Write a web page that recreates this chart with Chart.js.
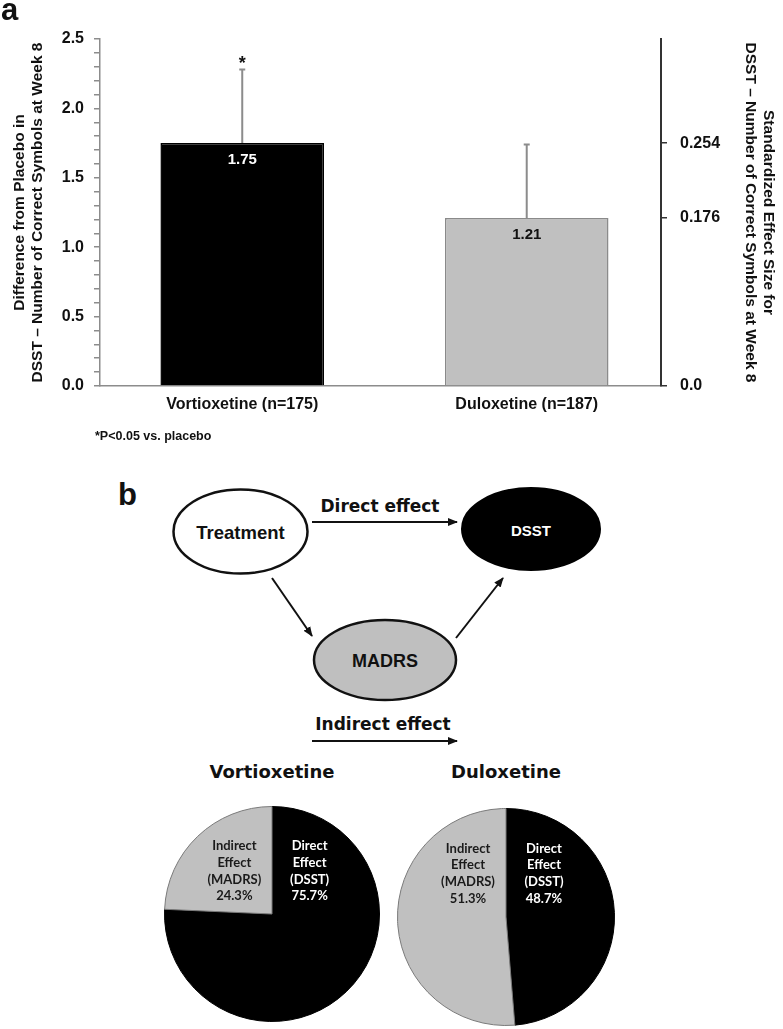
<!DOCTYPE html>
<html>
<head>
<meta charset="utf-8">
<title>DSST effect and mediation</title>
<script src="https://cdn.jsdelivr.net/npm/chart.js@4.4.0/dist/chart.umd.min.js"></script>
<style>
  body { margin: 0; background: #fff; }
  #page { position: relative; width: 783px; height: 1029px; overflow: hidden; font-family: "Liberation Sans", Arial, sans-serif; color: #111; }
  .abs { position: absolute; }
  .panel-letter { font-weight: bold; font-size: 31px; line-height: 1; }
  #footnote { left: 95px; top: 430px; font-size: 12.5px; font-weight: bold; line-height: 1; }
  #diagram text { font-family: "DejaVu Sans", Verdana, sans-serif; }
</style>
</head>
<body>
<div id="page">
  <svg id="diagram" class="abs" width="783" height="1029" style="left:0;top:0">
    <defs>
      <marker id="head" viewBox="0 0 10 10" refX="9" refY="5" markerWidth="10" markerHeight="10" markerUnits="userSpaceOnUse" orient="auto">
        <path d="M0,1 L10,5 L0,9 z" fill="#111"/>
      </marker>
    </defs>
    <ellipse cx="240.5" cy="531.5" rx="67" ry="42" fill="#fff" stroke="#111" stroke-width="2.5"/>
    <ellipse cx="531" cy="529" rx="69" ry="41" fill="#000" stroke="#000" stroke-width="2"/>
    <ellipse cx="385" cy="660" rx="71" ry="40" fill="#bfbfbf" stroke="#111" stroke-width="2.5"/>
    <line x1="312" y1="522" x2="457" y2="522" stroke="#111" stroke-width="2" marker-end="url(#head)"/>
    <line x1="272" y1="578" x2="312" y2="636" stroke="#111" stroke-width="2" marker-end="url(#head)"/>
    <line x1="456" y1="638" x2="503" y2="578" stroke="#111" stroke-width="2" marker-end="url(#head)"/>
    <line x1="312" y1="741" x2="457" y2="741" stroke="#111" stroke-width="2" marker-end="url(#head)"/>
    <text x="240.5" y="532" text-anchor="middle" dominant-baseline="central" style="font-family:'Liberation Sans',Arial;font-weight:bold;font-size:18.5px" fill="#111">Treatment</text>
    <text x="531" y="530" text-anchor="middle" dominant-baseline="central" style="font-family:'Liberation Sans',Arial;font-weight:bold;font-size:15px" fill="#fff">DSST</text>
    <text x="385" y="661" text-anchor="middle" dominant-baseline="central" style="font-family:'Liberation Sans',Arial;font-weight:bold;font-size:18px" fill="#111">MADRS</text>
    <text x="380" y="506" text-anchor="middle" dominant-baseline="central" font-size="17" font-weight="bold" fill="#111">Direct effect</text>
    <text x="383" y="724" text-anchor="middle" dominant-baseline="central" font-size="17" font-weight="bold" fill="#111">Indirect effect</text>
    <text x="272" y="771" text-anchor="middle" dominant-baseline="central" font-size="18" font-weight="bold" fill="#111">Vortioxetine</text>
    <text x="506" y="771" text-anchor="middle" dominant-baseline="central" font-size="18" font-weight="bold" fill="#111">Duloxetine</text>
  </svg>

  <canvas id="bar-chart" class="abs" width="783" height="460" style="left:0;top:0"></canvas>
  <canvas id="pie-vortioxetine" class="abs" width="216" height="216" style="left:164px;top:806px"></canvas>
  <canvas id="pie-duloxetine" class="abs" width="218" height="218" style="left:397px;top:808px"></canvas>

  <div class="abs panel-letter" style="left:1px;top:-6px">a</div>
  <div class="abs panel-letter" style="left:118px;top:479px">b</div>
  <div id="footnote" class="abs">*P&lt;0.05 vs. placebo</div>
</div>

<script>
const drugLabels = ["Vortioxetine (n=175)", "Duloxetine (n=187)"];
const diffFromPlacebo = [1.75, 1.21];
const errorUpper = [0.53, 0.53];
const significant = [true, false];
const effectSizeLabels = ["0.254", "0.176"];
const leftTickLabels = ["0.0", "0.5", "1.0", "1.5", "2.0", "2.5"];

const pieCanvasIds = ["pie-vortioxetine", "pie-duloxetine"];
const directShare = [75.7, 48.7];
const indirectShare = [24.3, 51.3];
const directLines = ["Direct", "Effect", "(DSST)"];
const indirectLines = ["Indirect", "Effect", "(MADRS)"];

const barColors = ["#000000", "#c0c0c0"];
const barBorders = ["#000000", "#8a8a8a"];
const valueLabelColors = ["#ffffff", "#111111"];
const axisFont = "'Liberation Sans', Arial, sans-serif";

function buildLeftTicks() {
    const majors = leftTickLabels.map(Number);
    const ticks = [];
    majors.forEach((m, i) => {
        ticks.push({ value: m });
        if (i < majors.length - 1) {
            const step = (majors[i + 1] - m) / 5;
            for (let k = 1; k < 5; k++) ticks.push({ value: m + step * k });
        }
    });
    return ticks;
}

function leftLabel(v) {
    const idx = leftTickLabels.findIndex(l => Math.abs(Number(l) - v) < 1e-6);
    return idx >= 0 ? leftTickLabels[idx] : "";
}

// error bars (upper half only) and the significance star
const errorBarPlugin = {
    id: "errorBars",
    afterDatasetsDraw(chart) {
        const { ctx, scales: { y } } = chart;
        const bars = chart.getDatasetMeta(0).data;
        ctx.save();
        bars.forEach((bar, i) => {
            const top = y.getPixelForValue(diffFromPlacebo[i] + errorUpper[i]);
            ctx.strokeStyle = "#8c8c8c";
            ctx.lineWidth = 2;
            ctx.beginPath();
            ctx.moveTo(bar.x, bar.y);
            ctx.lineTo(bar.x, top);
            ctx.moveTo(bar.x - 3, top);
            ctx.lineTo(bar.x + 3, top);
            ctx.stroke();
            if (significant[i]) {
                ctx.fillStyle = "#111";
                ctx.font = "bold 18px " + axisFont;
                ctx.textAlign = "center";
                ctx.textBaseline = "alphabetic";
                ctx.fillText("*", bar.x, top - 1);
            }
        });
        ctx.restore();
    }
};

// value labels inside the bars
const valueLabelPlugin = {
    id: "valueLabels",
    afterDatasetsDraw(chart) {
        const { ctx } = chart;
        const bars = chart.getDatasetMeta(0).data;
        ctx.save();
        ctx.font = "bold 15px " + axisFont;
        ctx.textAlign = "center";
        ctx.textBaseline = "middle";
        bars.forEach((bar, i) => {
            ctx.fillStyle = valueLabelColors[i];
            ctx.fillText(diffFromPlacebo[i].toFixed(2), bar.x, bar.y + 16.5);
        });
        ctx.restore();
    }
};

new Chart(document.getElementById("bar-chart"), {
    type: "bar",
    data: {
        datasets: [{
            data: diffFromPlacebo.map((v, i) => ({ x: i, y: v })),
            backgroundColor: barColors,
            borderColor: barBorders,
            borderWidth: 1.5,
            categoryPercentage: 1,
            barPercentage: 0.575
        }]
    },
    options: {
        responsive: false,
        animation: false,
        layout: { padding: { top: 39, left: 0, right: 0, bottom: 0 } },
        plugins: { legend: { display: false }, tooltip: { enabled: false } },
        scales: {
            x: {
                type: "linear",
                min: -0.5,
                max: 1.472,
                offset: false,
                afterBuildTicks: s => { s.ticks = drugLabels.map((_, i) => ({ value: i })); },
                ticks: {
                    callback: v => drugLabels[v],
                    autoSkip: false,
                    maxRotation: 0,
                    padding: 9,
                    color: "#111",
                    font: { family: axisFont, size: 16, weight: "bold" }
                },
                grid: { display: false, drawTicks: false, offset: false },
                border: { color: "#8c8c8c", width: 1.5 },
                afterFit: s => { s.height = 74; }
            },
            y: {
                position: "left",
                min: 0,
                max: 2.5,
                afterBuildTicks: s => { s.ticks = buildLeftTicks(); },
                ticks: {
                    callback: v => leftLabel(v),
                    autoSkip: false,
                    padding: 10,
                    color: "#111",
                    font: { family: axisFont, size: 16, weight: "bold" }
                },
                grid: { drawOnChartArea: false, drawTicks: true, tickLength: 6, color: "#8c8c8c", lineWidth: 1.5 },
                border: { color: "#8c8c8c", width: 1.5 },
                title: {
                    display: true,
                    text: ["Difference from Placebo in", "DSST \u2013 Number of Correct Symbols at Week 8"],
                    color: "#111",
                    font: { family: axisFont, size: 15.5, weight: "bold", lineHeight: 1.17 },
                    padding: { top: 11, bottom: 0 }
                },
                afterFit: s => { s.width = 100; }
            },
            y2: {
                position: "right",
                min: 0,
                max: 2.5,
                afterBuildTicks: s => {
                    s.ticks = [{ value: 0 }].concat(diffFromPlacebo.map(v => ({ value: v })));
                },
                ticks: {
                    callback: (v, i) => (i === 0 ? "0.0" : effectSizeLabels[i - 1]),
                    autoSkip: false,
                    padding: 13,
                    color: "#111",
                    font: { family: axisFont, size: 16, weight: "bold" }
                },
                grid: { drawOnChartArea: false, drawTicks: true, tickLength: 6, color: "#333", lineWidth: 1.5 },
                border: { color: "#333", width: 2 },
                title: {
                    display: true,
                    text: ["Standardized Effect Size for", "DSST \u2013 Number of Correct Symbols at Week 8"],
                    color: "#111",
                    font: { family: axisFont, size: 15.5, weight: "bold", lineHeight: 1.17 },
                    padding: { top: 6, bottom: 0 }
                },
                afterFit: s => { s.width = 122; }
            }
        }
    },
    plugins: [errorBarPlugin, valueLabelPlugin]
});

// text blocks inside the pies
const pieLabelPlugin = {
    id: "pieLabels",
    afterDatasetsDraw(chart) {
        const { ctx } = chart;
        const arc = chart.getDatasetMeta(0).data[0];
        const { x, y, outerRadius: r } = arc;
        const values = chart.data.datasets[0].data;
        const blocks = [
            { lines: directLines.concat(values[0].toFixed(1) + "%"), dx: 0.35, color: "#ffffff" },
            { lines: indirectLines.concat(values[1].toFixed(1) + "%"), dx: -0.35, color: "#1a1a1a" }
        ];
        ctx.save();
        ctx.font = "bold 13px Lato, 'Open Sans', sans-serif";
        ctx.textAlign = "center";
        ctx.textBaseline = "middle";
        blocks.forEach(b => {
            ctx.fillStyle = b.color;
            const lh = 16.7;
            const y0 = y - 0.4 * r - lh * 1.5;
            b.lines.forEach((line, k) => ctx.fillText(line, x + b.dx * r, y0 + k * lh));
        });
        ctx.restore();
    }
};

pieCanvasIds.forEach((id, i) => {
    new Chart(document.getElementById(id), {
        type: "pie",
        data: {
            labels: ["Direct Effect (DSST)", "Indirect Effect (MADRS)"],
            datasets: [{
                data: [directShare[i], indirectShare[i]],
                backgroundColor: ["#000000", "#c0c0c0"],
                borderColor: ["#000000", "#7a7a7a"],
                borderWidth: 1
            }]
        },
        options: {
            responsive: false,
            animation: false,
            layout: { padding: 0 },
            plugins: { legend: { display: false }, tooltip: { enabled: false } }
        },
        plugins: [pieLabelPlugin]
    });
});
</script>
</body>
</html>
